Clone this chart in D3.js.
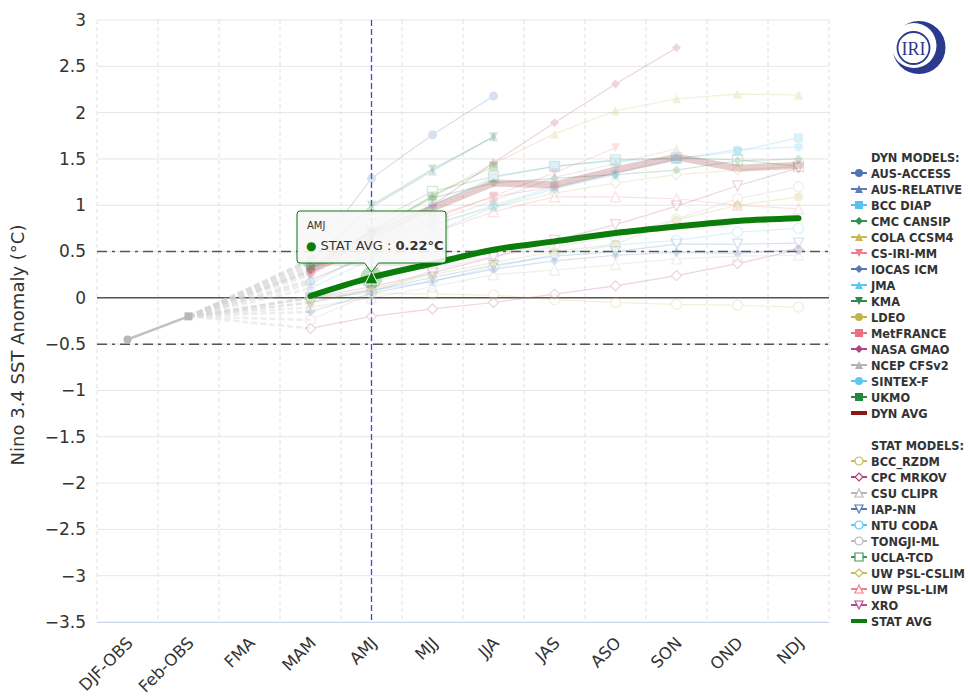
<!DOCTYPE html>
<html>
<head>
<meta charset="utf-8">
<script src="https://cdn.jsdelivr.net/npm/d3@7/dist/d3.min.js"></script>
<style>
  html, body { margin: 0; padding: 0; background: #fff; }
  svg { display: block; font-family: "DejaVu Sans", sans-serif; }
</style>
</head>
<body>
<svg id="chart" width="968" height="699"></svg>
<script>
// ---- Data -------------------------------------------------------------
const seasons = ["DJF-OBS", "Feb-OBS", "FMA", "MAM", "AMJ", "MJJ", "JJA", "JAS", "ASO", "SON", "OND", "NDJ"];
const yTicks = [3, 2.5, 2, 1.5, 1, 0.5, 0, -0.5, -1, -1.5, -2, -2.5, -3, -3.5];

// observed values (DJF-OBS, Feb-OBS)
const observed = [-0.45, -0.2];

// forecasts: MAM ... NDJ
const ausAccess   = [0.42, 1.29, 1.76, 2.18];
const ausRelative = [0.38, 0.98, 1.37, 1.74];
const bccDiap     = [0.32, 0.70, 1.00, 1.30, 1.42, 1.48, 1.50, 1.58, 1.73];
const cmcCansip   = [0.30, 0.72, 1.08, 1.24, 1.29, 1.33, 1.38, 1.48, 1.50];
const colaCcsm4   = [0.35, 0.72, 1.10, 1.45, 1.77, 2.02, 2.15, 2.20, 2.19];
const csIriMm     = [0.28, 0.55, 0.85, 1.10, 1.35, 1.62];
const iocasIcm    = [-0.15, 0.05, 0.18, 0.31, 0.40, 0.46, 0.49, 0.48, 0.52];
const jma         = [0.10, 0.42, 0.70, 0.98, 1.18, 1.33];
const kma         = [0.40, 1.00, 1.39, 1.74];
const ldeo        = [-0.05, 0.10, 0.25, 0.38, 0.50, 0.58, 0.84, 1.00, 1.09];
const metFrance   = [0.30, 0.60, 0.88, 1.09, 1.20];
const nasaGmao    = [0.25, 0.60, 1.00, 1.46, 1.89, 2.31, 2.70];
const ncepCfsv2   = [0.15, 0.50, 0.82, 1.05, 1.30, 1.45, 1.61];
const sintexF     = [0.18, 0.48, 0.78, 1.00, 1.20, 1.35, 1.50, 1.60, 1.63];
const ukmo        = [0.35, 0.72, 1.10, 1.42];
const dynAvg      = [0.30, 0.68, 0.97, 1.24, 1.22, 1.38, 1.52, 1.40, 1.43];

const bccRzdm     = [0.00, 0.05, 0.04, 0.03, -0.02, -0.05, -0.07, -0.08, -0.10];
const cpcMrkov    = [-0.33, -0.20, -0.12, -0.05, 0.04, 0.13, 0.24, 0.37, 0.52];
const csuClipr    = [-0.10, 0.00, 0.12, 0.25, 0.30, 0.36, 0.42, 0.45, 0.46];
const iapNn       = [-0.05, 0.08, 0.22, 0.35, 0.45, 0.50, 0.58, 0.58, 0.59];
const ntuCoda     = [0.00, 0.08, 0.18, 0.33, 0.47, 0.57, 0.62, 0.71, 0.75];
const tongjiMl    = [-0.24, 0.05, 0.30, 0.45, 0.55, 0.66, 0.85, 1.07, 1.20];
const uclaTcd     = [0.40, 0.80, 1.15, 1.31, 1.42, 1.49, 1.51, 1.49, 1.42];
const uwPslCslim  = [0.28, 0.52, 0.80, 0.98, 1.13, 1.24, 1.33, 1.38, 1.42];
const uwPslLim    = [0.20, 0.45, 0.70, 0.93, 1.09, 1.09, 1.07, 1.00, 0.96];
const xro         = [0.00, 0.12, 0.27, 0.44, 0.62, 0.79, 0.99, 1.21, 1.40];
const statAvg     = [0.02, 0.22, 0.37, 0.52, 0.61, 0.70, 0.77, 0.83, 0.86];

const FIRST_FCST = 3; // forecasts start at MAM
const HOVER_SEASON = "AMJ";

// ---- Series styling ----------------------------------------------------
const dynSeries = [
  { name: "AUS-ACCESS",   values: ausAccess,   color: "#4f74b3", symbol: "circle" },
  { name: "AUS-RELATIVE", values: ausRelative, color: "#5a7db8", symbol: "triangle" },
  { name: "BCC DIAP",     values: bccDiap,     color: "#57c2ee", symbol: "square" },
  { name: "CMC CANSIP",   values: cmcCansip,   color: "#2e9150", symbol: "diamond" },
  { name: "COLA CCSM4",   values: colaCcsm4,   color: "#c9b94f", symbol: "triangle" },
  { name: "CS-IRI-MM",    values: csIriMm,     color: "#f47c8c", symbol: "triangle-down" },
  { name: "IOCAS ICM",    values: iocasIcm,    color: "#5677b4", symbol: "diamond" },
  { name: "JMA",          values: jma,         color: "#5cc9f0", symbol: "triangle" },
  { name: "KMA",          values: kma,         color: "#2e8a48", symbol: "triangle-down" },
  { name: "LDEO",         values: ldeo,        color: "#c4b446", symbol: "circle" },
  { name: "MetFRANCE",    values: metFrance,   color: "#ee6d80", symbol: "square" },
  { name: "NASA GMAO",    values: nasaGmao,    color: "#b3427e", symbol: "diamond" },
  { name: "NCEP CFSv2",   values: ncepCfsv2,   color: "#b3b3b3", symbol: "triangle" },
  { name: "SINTEX-F",     values: sintexF,     color: "#5cc8ef", symbol: "circle" },
  { name: "UKMO",         values: ukmo,        color: "#24893a", symbol: "square" }
];
const statSeries = [
  { name: "BCC_RZDM",     values: bccRzdm,    color: "#c8bd55", symbol: "circle" },
  { name: "CPC MRKOV",    values: cpcMrkov,   color: "#b3427e", symbol: "diamond" },
  { name: "CSU CLIPR",    values: csuClipr,   color: "#b8b8b8", symbol: "triangle" },
  { name: "IAP-NN",       values: iapNn,      color: "#5677b4", symbol: "triangle-down" },
  { name: "NTU CODA",     values: ntuCoda,    color: "#5cc8ef", symbol: "circle" },
  { name: "TONGJI-ML",    values: tongjiMl,   color: "#b8b8b8", symbol: "circle" },
  { name: "UCLA-TCD",     values: uclaTcd,    color: "#3c9a58", symbol: "square" },
  { name: "UW PSL-CSLIM", values: uwPslCslim, color: "#c8bd55", symbol: "diamond" },
  { name: "UW PSL-LIM",   values: uwPslLim,   color: "#f47c8c", symbol: "triangle" },
  { name: "XRO",          values: xro,        color: "#b84b8c", symbol: "triangle-down" }
];
const dynAvgStyle  = { name: "DYN AVG",  values: dynAvg,  color: "#8e1616" };
const statAvgStyle = { name: "STAT AVG", values: statAvg, color: "#0a7d0a" };

// ---- Layout ------------------------------------------------------------
const plot = { left: 97, right: 829, top: 20, bottom: 622 };
const svg = d3.select("#chart");

const x = d3.scalePoint().domain(seasons).range([plot.left, plot.right]).padding(0.5);
const bandW = x.step();
const y = d3.scaleLinear().domain([-3.5, 3]).range([plot.bottom, plot.top]);

// marker shapes (radius r, Highcharts-like boxes)
function symbolPath(sym, r) {
  switch (sym) {
    case "circle": return `M${-r},0A${r},${r} 0 1,0 ${r},0A${r},${r} 0 1,0 ${-r},0Z`;
    case "square": return `M${-r},${-r}H${r}V${r}H${-r}Z`;
    case "diamond": return `M0,${-r}L${r},0L0,${r}L${-r},0Z`;
    case "triangle": return `M0,${-r}L${r},${r}L${-r},${r}Z`;
    case "triangle-down": return `M${-r},${-r}L${r},${-r}L0,${r}Z`;
  }
  return "";
}

function toPoints(values) {
  return values.map((v, i) => ({ s: seasons[FIRST_FCST + i], v }));
}

// ---- Grid ----------------------------------------------------------------
const grid = svg.append("g");
grid.selectAll("line.h").data(yTicks).join("line")
  .attr("x1", plot.left).attr("x2", plot.right)
  .attr("y1", d => y(d)).attr("y2", d => y(d))
  .attr("stroke", "#e6e6e6").attr("stroke-width", 1);
grid.selectAll("line.v").data(d3.range(seasons.length + 1)).join("line")
  .attr("x1", i => plot.left + i * bandW).attr("x2", i => plot.left + i * bandW)
  .attr("y1", plot.top).attr("y2", plot.bottom)
  .attr("stroke", "#e0e0e0").attr("stroke-width", 1).attr("stroke-dasharray", "4,3");

// x axis line
svg.append("line").attr("x1", plot.left).attr("x2", plot.right)
  .attr("y1", plot.bottom + 0.5).attr("y2", plot.bottom + 0.5)
  .attr("stroke", "#ccd6eb").attr("stroke-width", 1);

// y axis tick labels
const yAxis = d3.axisLeft(y).tickValues(yTicks).tickSize(0).tickPadding(11)
  .tickFormat(d => d3.format("")(d).replace("-", "\u2212"));
svg.append("g").attr("transform", `translate(${plot.left},0)`).call(yAxis)
  .call(g => g.select(".domain").remove())
  .call(g => g.selectAll("text").attr("font-size", 17).attr("fill", "#333")
    .attr("font-family", "DejaVu Sans, sans-serif"));

svg.append("text")
  .attr("transform", `translate(24,${(plot.top + plot.bottom) / 2 + 24}) rotate(-90)`)
  .attr("text-anchor", "middle").attr("font-size", 18).attr("fill", "#333")
  .text("Nino 3.4 SST Anomaly (°C)");

// x axis labels (rotated)
const xAxis = d3.axisBottom(x).tickSize(0).tickPadding(0);
svg.append("g").attr("transform", `translate(0,${plot.bottom})`).call(xAxis)
  .call(g => g.select(".domain").remove())
  .call(g => g.selectAll("text")
    .attr("font-size", 16.5).attr("fill", "#333").attr("font-family", "DejaVu Sans, sans-serif")
    .attr("text-anchor", "end").attr("dy", 0).attr("y", 0)
    .attr("transform", "translate(6,22) rotate(-45)"));

// ---- Reference lines ----------------------------------------------------
svg.append("line").attr("x1", plot.left).attr("x2", plot.right)
  .attr("y1", y(0)).attr("y2", y(0)).attr("stroke", "#555").attr("stroke-width", 1.5);
[0.5, -0.5].forEach(v => {
  svg.append("line").attr("x1", plot.left).attr("x2", plot.right)
    .attr("y1", y(v)).attr("y2", y(v)).attr("stroke", "#555").attr("stroke-width", 1.5)
    .attr("stroke-dasharray", "10,5,3,5");
});

// crosshair on the hovered season
svg.append("line").attr("x1", x(HOVER_SEASON)).attr("x2", x(HOVER_SEASON))
  .attr("y1", plot.top).attr("y2", plot.bottom)
  .attr("stroke", "#4a3cff").attr("stroke-width", 1.3).attr("stroke-dasharray", "6,3");

// ---- Series ---------------------------------------------------------------
const line = d3.line().x(d => x(d.s)).y(d => y(d.v));
const smoothLine = d3.line().x(d => x(d.s)).y(d => y(d.v)).curve(d3.curveMonotoneX);
const FADE = 0.22;
const seriesG = svg.append("g");

// dashed connectors from last observation to each forecast start
const allModels = dynSeries.concat(statSeries);
const lastObs = { s: seasons[1], v: observed[1] };
seriesG.append("g").selectAll("line").data(allModels).join("line")
  .attr("x1", x(lastObs.s)).attr("y1", y(lastObs.v))
  .attr("x2", x(seasons[FIRST_FCST])).attr("y2", d => y(d.values[0]))
  .attr("stroke", "#d6d6d6").attr("stroke-width", 2.5).attr("stroke-dasharray", "6,3")
  .attr("opacity", 0.4);

// observations
const obsPts = observed.map((v, i) => ({ s: seasons[i], v }));
seriesG.append("path").datum(obsPts).attr("d", line)
  .attr("fill", "none").attr("stroke", "#c2c2c2").attr("stroke-width", 2.5);
seriesG.selectAll("path.obsm").data(obsPts).join("path")
  .attr("transform", d => `translate(${x(d.s)},${y(d.v)})`)
  .attr("d", (d, i) => symbolPath(i === 0 ? "circle" : "square", 4))
  .attr("fill", "#b8b8b8");

function drawModel(m, open) {
  const g = seriesG.append("g").attr("opacity", FADE);
  const pts = toPoints(m.values);
  g.append("path").datum(pts).attr("d", line)
    .attr("fill", "none").attr("stroke", m.color).attr("stroke-width", 1.2);
  g.selectAll("path.m").data(pts).join("path")
    .attr("transform", d => `translate(${x(d.s)},${y(d.v)})`)
    .attr("d", symbolPath(m.symbol, open ? 5 : 4.5))
    .attr("fill", open ? "#fff" : m.color)
    .attr("stroke", m.color).attr("stroke-width", open ? 1.3 : 0);
}
statSeries.forEach(m => drawModel(m, true));
dynSeries.forEach(m => drawModel(m, false));

// dynamical average (faded)
seriesG.append("path").datum(toPoints(dynAvgStyle.values)).attr("d", line)
  .attr("fill", "none").attr("stroke", dynAvgStyle.color).attr("stroke-width", 7)
  .attr("stroke-linejoin", "round").attr("stroke-linecap", "round").attr("opacity", FADE);

// statistical average (active series)
const statPts = toPoints(statAvgStyle.values);
seriesG.append("path").datum(statPts).attr("d", smoothLine)
  .attr("fill", "none").attr("stroke", statAvgStyle.color).attr("stroke-width", 6)
  .attr("stroke-linejoin", "round").attr("stroke-linecap", "round");

// hovered point: halo + marker
const hp = statPts.find(d => d.s === HOVER_SEASON);
svg.append("circle").attr("cx", x(hp.s)).attr("cy", y(hp.v)).attr("r", 11)
  .attr("fill", statAvgStyle.color).attr("opacity", 0.25);
svg.append("path").attr("transform", `translate(${x(hp.s)},${y(hp.v)})`)
  .attr("d", symbolPath("triangle", 6.5))
  .attr("fill", statAvgStyle.color).attr("stroke", "#fff").attr("stroke-width", 1);

// ---- Tooltip ---------------------------------------------------------------
const tipW = 149, tipH = 52;
const tx = x(hp.s) - tipW / 2, ty = 211;
const cx = x(hp.s), tipBottom = ty + tipH, tipPoint = tipBottom + 9, r = 3;
const tipPath = `M${tx + r},${ty}H${tx + tipW - r}Q${tx + tipW},${ty} ${tx + tipW},${ty + r}` +
  `V${tipBottom - r}Q${tx + tipW},${tipBottom} ${tx + tipW - r},${tipBottom}` +
  `H${cx + 7}L${cx},${tipPoint}L${cx - 7},${tipBottom}` +
  `H${tx + r}Q${tx},${tipBottom} ${tx},${tipBottom - r}V${ty + r}Q${tx},${ty} ${tx + r},${ty}Z`;
const tip = svg.append("g");
tip.append("path").attr("d", tipPath).attr("transform", "translate(1,1.5)")
  .attr("fill", "none").attr("stroke", "#000").attr("stroke-opacity", 0.08).attr("stroke-width", 3);
tip.append("path").attr("d", tipPath)
  .attr("fill", "#f7f7f7").attr("fill-opacity", 0.9)
  .attr("stroke", statAvgStyle.color).attr("stroke-width", 1);
tip.append("text").attr("x", tx + 10).attr("y", ty + 18)
  .attr("font-size", 10).attr("fill", "#333").text(HOVER_SEASON);
const t2 = tip.append("text").attr("x", tx + 9).attr("y", ty + 39)
  .attr("font-size", 13).attr("fill", "#333");
t2.append("tspan").attr("fill", statAvgStyle.color).attr("font-size", 12).text("\u25CF");
t2.append("tspan").text(` ${statAvgStyle.name} : `);
t2.append("tspan").attr("font-weight", "bold").text(`${d3.format(".2f")(hp.v)}°C`);

// ---- Legend ---------------------------------------------------------------
const legendItems = [{ title: "DYN MODELS:" }]
  .concat(dynSeries.map(d => ({ ...d, open: false })))
  .concat([{ ...dynAvgStyle, avg: true }, { blank: true }, { title: "STAT MODELS:" }])
  .concat(statSeries.map(d => ({ ...d, open: true })))
  .concat([{ ...statAvgStyle, avg: true }]);

const legend = svg.append("g").attr("transform", "translate(851,157)");
legendItems.forEach((it, i) => {
  if (it.blank) return;
  const g = legend.append("g").attr("transform", `translate(0,${i * 16})`);
  if (!it.title) {
    if (it.avg) {
      g.append("rect").attr("x", 0).attr("y", -2).attr("width", 16).attr("height", 4)
        .attr("fill", it.color);
    } else {
      g.append("line").attr("x1", 0).attr("x2", 16).attr("y1", 0).attr("y2", 0)
        .attr("stroke", it.color).attr("stroke-width", 2);
      g.append("path").attr("transform", "translate(8,0)")
        .attr("d", symbolPath(it.symbol, 4))
        .attr("fill", it.open ? "#fff" : it.color)
        .attr("stroke", it.color).attr("stroke-width", it.open ? 1.2 : 0);
    }
  }
  g.append("text").attr("x", 20).attr("y", 4.5)
    .attr("font-size", 11.4).attr("font-weight", "bold").attr("fill", "#333")
    .text(it.title || it.name);
});

// ---- Logo -----------------------------------------------------------------
const logo = svg.append("g");
logo.append("circle").attr("cx", 919).attr("cy", 47.5).attr("r", 26.5).attr("fill", "#2a3a8f");
logo.append("circle").attr("cx", 914).attr("cy", 45.5).attr("r", 22.5).attr("fill", "#fff");
logo.append("circle").attr("cx", 913.5).attr("cy", 48).attr("r", 16)
  .attr("fill", "none").attr("stroke", "#2a3a8f").attr("stroke-width", 1.8);
logo.append("text").attr("x", 913.5).attr("y", 54.5).attr("text-anchor", "middle")
  .attr("font-family", "Liberation Serif, DejaVu Serif, serif").attr("font-size", 18)
  .attr("fill", "#2a3a8f").text("IRI");
</script>
</body>
</html>
